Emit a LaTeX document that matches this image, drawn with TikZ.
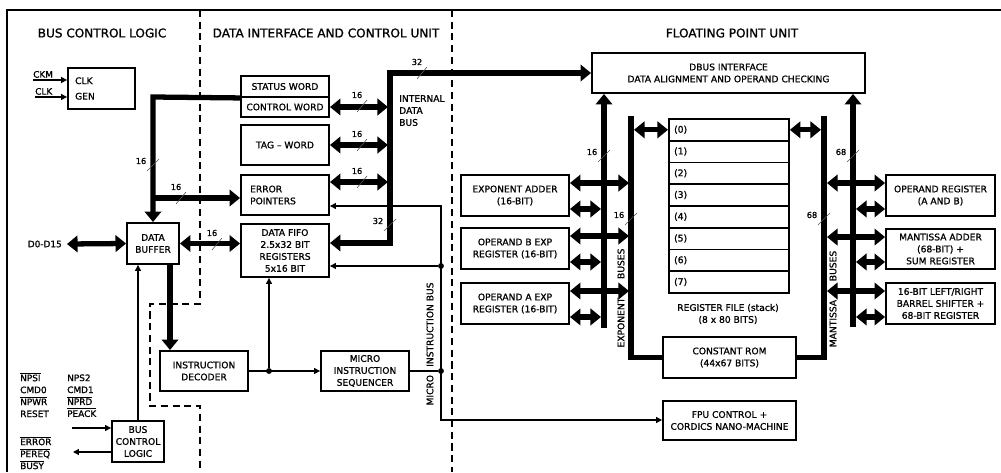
\documentclass[tikz,border=0pt]{standalone}
\usepackage{fontspec}
\setmainfont{DejaVu Sans}[BoldFont={DejaVu Sans},BoldFeatures={FakeBold=1.1}]
\usepackage{xcolor}
\usepackage{tikz}
\usetikzlibrary{arrows.meta}
\definecolor{BlockInk}{HTML}{000000}
\definecolor{SlashInk}{HTML}{555555}
\newcommand{\TitleText}{\fontsize{10.3}{12.0}\selectfont\bfseries}
\newcommand{\BlockText}{\fontsize{7.8}{10.2}\selectfont\bfseries}
\newcommand{\PinText}{\fontsize{7.6}{10.2}\selectfont\bfseries}
\newcommand{\WidthTag}{\fontsize{7.0}{8.0}\selectfont\bfseries}
\newcommand{\ovl}[1]{$\overline{\hbox{#1}}$}
\tikzset{
  frame line/.style={draw=BlockInk,line width=1.7pt},
  unit border/.style={draw=BlockInk,line width=1.6pt,dash pattern=on 6pt off 4pt},
  block/.style={draw=BlockInk,line width=1.6pt,align=center,inner sep=0pt,font=\BlockText,text=BlockInk},
  block size/.style 2 args={minimum width={#1*0.03cm},minimum height={#2*0.03cm}},
  bus/.style={draw=BlockInk,line width=4.5pt},
  bus to/.style={bus,-{Triangle[length=9pt,width=14pt]}},
  bus both/.style={bus,{Triangle[length=9pt,width=14pt]}-{Triangle[length=9pt,width=14pt]}},
  signal/.style={draw=BlockInk,line width=1.1pt,-{Triangle[length=5pt,width=5pt]}},
  signal both/.style={draw=BlockInk,line width=1.1pt,{Triangle[length=5pt,width=5pt]}-{Triangle[length=5pt,width=5pt]}},
  signal line/.style={draw=BlockInk,line width=1.1pt},
  width slash/.style={draw=SlashInk,line width=0.5pt},
  width tag/.style={font=\WidthTag,text=BlockInk,inner sep=0pt},
  tap/.style={circle,fill=BlockInk,inner sep=0pt,minimum size=5pt},
  pin text/.style={font=\PinText,text=BlockInk,inner sep=0pt,align=left},
  unit title/.style={font=\TitleText,text=BlockInk},
  block caption/.style={font=\BlockText,text=BlockInk,inner sep=0pt}
}

\begin{document}
\begin{tikzpicture}[x=0.03cm,y=-0.03cm]
  % one unit = one pixel of the 1001 x 472 sheet, y running down
  \useasboundingbox (0,0) rectangle (1001,472);

  \newcommand{\HBusWidth}[4]{%
    \draw[width slash] ({#2-5},{#3+6}) -- ({#2+5},{#3-6});%
    \node[width tag] (#1) at ({#2-5},{#3-11}) {#4};%
  }
  \newcommand{\VBusWidth}[4]{%
    \draw[width slash] ({#2-6},{#3+6}) -- ({#2+6},{#3-6});%
    \node[width tag] (#1) at ({#2-12},{#3-4}) {#4};%
  }

  \draw[frame line] (7,472) -- (7,10) -- (1001,10);
  \draw[unit border] (200,10) -- (200,304) -- (150,304) -- (150,406) -- (200,406) -- (200,472);
  \draw[unit border] (452,10) -- (452,472);

  \node[unit title] (busTitle) at (102,33) {BUS CONTROL LOGIC};
  \node[unit title] (difTitle) at (326,33) {DATA INTERFACE AND CONTROL UNIT};
  \node[unit title] (fpuTitle) at (732,33) {FLOATING POINT UNIT};

  % bus control logic
  \node[block,block size={67}{41},align=left,text width=45pt,inner xsep=6pt] (clk) at (101.5,88.5) {CLK\\[3pt]GEN};
  \node[block,block size={52}{41}] (db) at (153,243.5) {DATA\\BUFFER};
  \node[block,block size={52}{41}] (bcl) at (138,441.5) {BUS\\CONTROL\\LOGIC};

  \node[pin text,anchor=south west] (ckm) at (33,78) {CKM};
  \node[pin text,anchor=south west] (clkIn) at (35,95) {CLK};
  \coordinate (ckmLine) at (33,80);
  \coordinate (clkLine) at (35,97);
  \draw[signal] (ckmLine) -- (ckmLine -| clk.west);
  \draw[signal] (clkLine) -- (clkLine -| clk.west);

  \node[pin text,anchor=east] (dpins) at (62,244) {D0-D15};
  \coordinate (dLeft) at (67,244);
  \draw[bus both] (dLeft) -- (db.west);

  \node[pin text,anchor=north west] (pinsA) at (20,372) {\ovl{NPSI}\\CMD0\\\ovl{NPWR}\\RESET};
  \node[pin text,anchor=north west] (pinsB) at (67,372) {\vphantom{\ovl{N}}NPS2\\CMD1\\\ovl{NPRD}\\\ovl{PEACK}};
  \node[pin text,anchor=north west] (pinsC) at (20,436) {\ovl{ERROR}\\\ovl{PEREQ}\\\ovl{BUSY}};
  \coordinate (bclIn) at (72,428);
  \coordinate (bclOut) at (73,452);
  \draw[signal] (bclIn) -- (bclIn -| bcl.west);
  \draw[signal] (bclOut -| bcl.west) -- (bclOut);
  \draw[signal] (bcl.north) -- (bcl.north |- db.south);

  % data interface and control unit
  \node[block,block size={88}{21}] (sw) at (285,86.5) {STATUS WORD};
  \node[block,block size={88}{20}] (cw) at (285,107) {CONTROL WORD};
  \node[block,block size={88}{40}] (tw) at (285,145) {TAG \textendash{} WORD};
  \node[block,block size={88}{40},align=left,text width=59.5pt,inner xsep=7.65pt] (ep) at (285,195) {ERROR\\POINTERS};
  \node[block,block size={88}{53}] (fifo) at (285,250.5) {DATA FIFO\\2.5x32 BIT\\REGISTERS\\5x16 BIT};
  \node[block,block size={88}{40}] (id) at (204,371) {INSTRUCTION\\DECODER};
  \node[block,block size={88}{40}] (seq) at (365,371) {MICRO\\INSTRUCTION\\SEQUENCER};

  \coordinate (dbBus) at (153,97);
  \coordinate (epTap) at (153,198);
  \coordinate (idIn) at (170,0);
  \draw[bus to] (sw.south west) -- (dbBus) -- (db.north);
  \draw[bus to] (epTap) -- (epTap -| ep.west);
  \draw[bus both] (db.east) -- (db.east -| fifo.west);
  \draw[bus to] (idIn |- db.south) -- (idIn |- id.north);

  % floating point unit blocks
  \node[block,block size={273}{40}] (dbus) at (728.5,73) {DBUS INTERFACE\\DATA ALIGNMENT AND OPERAND CHECKING};
  \foreach \i in {0,...,7}{
    \pgfmathsetmacro{\ry}{118+21.75*\i}
    \node[block,block size={120}{21.75},anchor=north west,align=left,text width=93.5pt,inner xsep=4.25pt] (r\i) at (668,\ry) {(\i)};
  }
  \node[block caption,align=center] (rfText) at (728,314) {REGISTER FILE (stack)\\(8 x 80 BITS)};
  \node[block,block size={133}{41}] (crom) at (729.5,357.5) {CONSTANT ROM\\(44x67 BITS)};
  \node[block,block size={133}{39}] (fpu) at (729.5,420.5) {FPU CONTROL +\\CORDICS NANO-MACHINE};

  \node[block,block size={108}{41}] (ea) at (515,195.5) {EXPONENT ADDER\\(16-BIT)};
  \node[block,block size={108}{41}] (ob) at (515,248.5) {OPERAND B EXP\\REGISTER (16-BIT)};
  \node[block,block size={108}{41}] (oa) at (515,303.5) {OPERAND A EXP\\REGISTER (16-BIT)};
  \node[block,block size={109}{41}] (opr) at (940.5,195.5) {OPERAND REGISTER\\(A AND B)};
  \node[block,block size={109}{40}] (madd) at (940.5,249) {MANTISSA ADDER\\(68-BIT) +\\SUM REGISTER};
  \node[block,block size={109}{41}] (bsh) at (940.5,303.5) {16-BIT LEFT/RIGHT\\BARREL SHIFTER +\\68-BIT REGISTER};

  % internal data bus
  \coordinate (ibLow) at (390,243);
  \coordinate (ibTop) at (390,73);
  \coordinate (ibEdge) at (388,0);
  \coordinate (epBus) at (388,182);
  \draw[bus both] (ibLow -| fifo.east) -- (ibLow) -- (ibTop) -- (ibTop -| dbus.west);
  \draw[bus both] (cw.east) -- (ibEdge |- cw.east);
  \draw[bus both] (tw.east) -- (ibEdge |- tw.east);
  \draw[bus both] (epBus -| ep.east) -- (epBus);
  \node[block caption,align=left,anchor=north west] (ibText) at (399,95) {INTERNAL\\DATA\\BUS};

  % micro instruction bus
  \node[tap] (j1) at (269,371) {};
  \node[tap] (j2) at (441,371) {};
  \node[tap] (j3) at (441,266) {};
  \coordinate (mbTop) at (441,206);
  \coordinate (mbBot) at (441,420);
  \draw[signal] (id.east) -- (seq.west);
  \draw[signal] (j1) -- (j1 |- fifo.south);
  \draw[signal line] (seq.east) -- (j2);
  \draw[signal both] (mbTop -| ep.east) -- (mbTop) -- (mbBot) -- (mbBot -| fpu.west);
  \draw[signal] (j3) -- (j3 -| fifo.east);
  \node[block caption,rotate=90] (mibText) at (430,344) {MICRO\hspace{7pt}INSTRUCTION BUS};

  % exponent and mantissa buses
  \coordinate (xEiL) at (601,0);
  \coordinate (xEoL) at (629,0);
  \coordinate (xEoR) at (634,0);
  \coordinate (xMoL) at (821,0);
  \coordinate (xMoR) at (827,0);
  \coordinate (xMiR) at (856,0);
  \coordinate (eiBot) at (604,328);
  \coordinate (eoTop) at (631,116);
  \coordinate (miBot) at (853,327);
  \coordinate (moTop) at (824,116);
  \draw[bus to] (eiBot) -- (eiBot |- dbus.south);
  \draw[bus to] (miBot) -- (miBot |- dbus.south);
  \draw[bus] (eoTop) -- (eoTop |- crom.west) -- (crom.west);
  \draw[bus] (moTop) -- (moTop |- crom.east) -- (crom.east);
  \draw[bus both] (xEoR |- r0.west) -- (r0.west);
  \draw[bus both] (r0.east) -- (xMoL |- r0.east);
  \foreach \b in {ea,ob,oa}{
    \path ([yshift=-7.65pt]\b.north east) coordinate (\b hi)
          ([yshift=6.8pt]\b.south east) coordinate (\b lo);
    \draw[bus both] (\b hi) -- (xEoL |- \b hi);
    \draw[bus both] (\b lo) -- (xEiL |- \b lo);
  }
  \foreach \b in {opr,madd,bsh}{
    \path ([yshift=-7.65pt]\b.north west) coordinate (\b hi)
          ([yshift=6.8pt]\b.south west) coordinate (\b lo);
    \draw[bus both] (xMoR |- \b hi) -- (\b hi);
    \draw[bus both] (xMiR |- \b lo) -- (\b lo);
  }
  \node[block caption,rotate=90] (expText) at (621,298) {EXPONENT\hspace{16pt}BUSES};
  \node[block caption,rotate=90] (manText) at (833,299) {MANTISSA\hspace{16pt}BUSES};

  % bus widths
  \VBusWidth{wDb}{153}{165}{16}
  \HBusWidth{wEp}{181}{198}{16}
  \HBusWidth{wFifo}{217}{244}{16}
  \HBusWidth{wCw}{362}{106}{16}
  \HBusWidth{wTw}{362}{145}{16}
  \HBusWidth{wEpb}{362}{182}{16}
  \VBusWidth{wIbLow}{390}{225}{32}
  \HBusWidth{wIbTop}{422}{73}{32}
  \VBusWidth{wEi}{604}{156}{16}
  \VBusWidth{wEo}{631}{219}{16}
  \VBusWidth{wMi}{853}{156}{68}
  \VBusWidth{wMo}{824}{219}{68}
\end{tikzpicture}
\end{document}
